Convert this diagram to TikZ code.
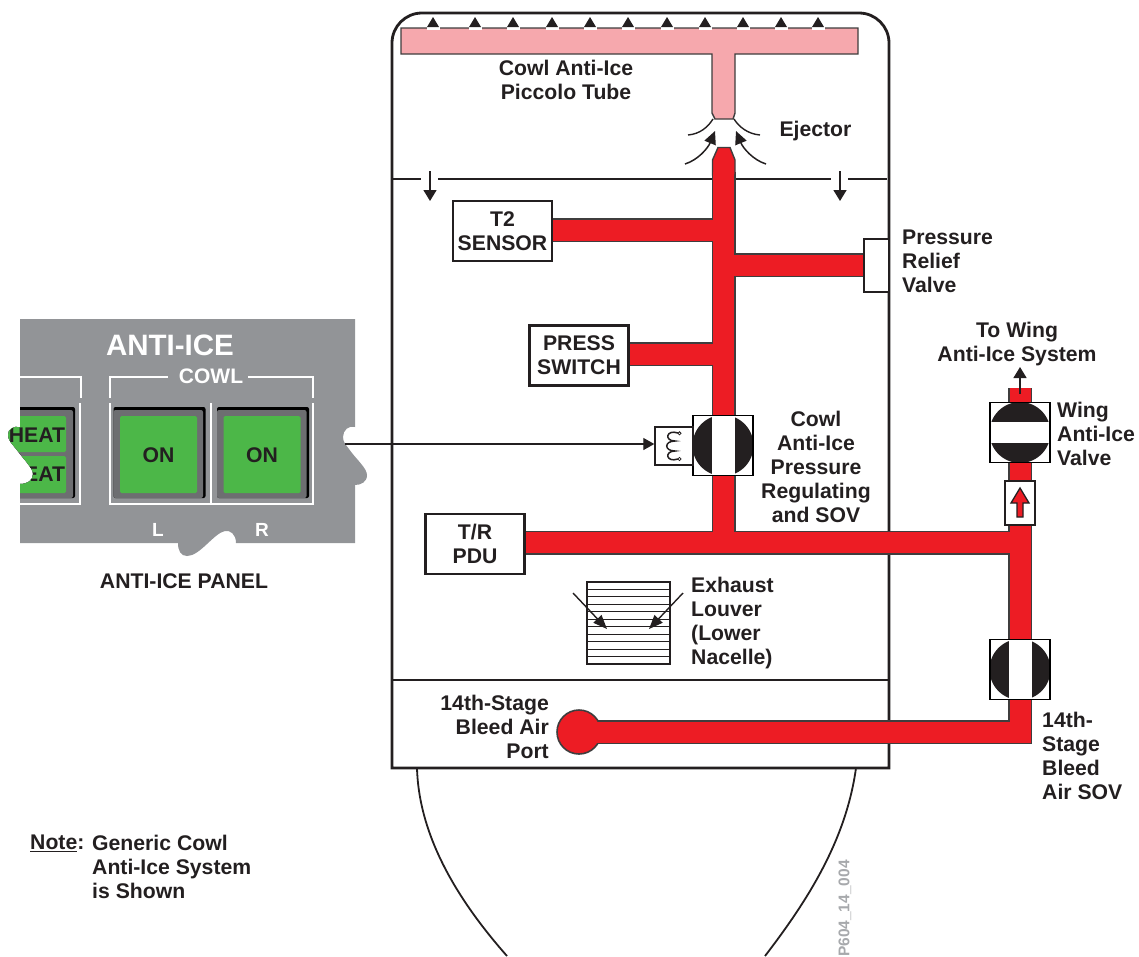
\documentclass[tikz,border=0pt]{standalone}
\usepackage{fontspec}
\setmainfont{Liberation Sans}
\usetikzlibrary{backgrounds,arrows.meta}
\definecolor{inkdark}{HTML}{231F20}
\definecolor{pipered}{HTML}{ED1C24}
\definecolor{pipepink}{HTML}{F6A8AD}
\definecolor{pipeedge}{HTML}{3F3D3E}
\definecolor{panelgray}{HTML}{929497}
\definecolor{btngray}{HTML}{6D6E71}
\definecolor{btngreen}{HTML}{4CB748}
\definecolor{fignogray}{HTML}{A7A9AC}
\newcommand{\lblfont}{\fontsize{21.2}{24}\selectfont\bfseries}
\tikzset{
  lbl/.style={font=\lblfont,text=inkdark,align=center,inner sep=0pt},
  lblleft/.style={lbl,align=left,anchor=west},
  unitbox/.style={draw=inkdark,line width=2.6pt,fill=white,font=\lblfont,text=inkdark,align=center,inner sep=0pt,minimum width=99pt,minimum height=60pt},
  thinbox/.style={draw=inkdark,line width=1.4pt,fill=white,inner sep=0pt},
  valvebase/.style={draw=black,line width=1.6pt,fill=white,inner sep=0pt,minimum size=60pt},
  valvev/.style={valvebase,path picture={
    \fill[inkdark] (path picture bounding box.center) circle (30.5pt);
    \fill[white] ([xshift=-11.5pt]path picture bounding box.south) rectangle ([xshift=11.5pt]path picture bounding box.north);}},
  valveh/.style={valvebase,path picture={
    \fill[inkdark] (path picture bounding box.center) circle (30.5pt);
    \fill[white] ([yshift=-10.5pt]path picture bounding box.west) rectangle ([yshift=10.5pt]path picture bounding box.east);}},
  pipeline/.style={line width=24pt,draw=pipeedge,line join=miter},
  pipecore/.style={line width=21pt,draw=pipered,line join=miter},
  flowarr/.style={-{Triangle[length=11pt,width=13pt]},line width=1.5pt,draw=inkdark},
  ejectarr/.style={-{Triangle[length=13pt,width=12pt]},line width=1.5pt,draw=inkdark},
  louverarr/.style={-{Triangle[length=14pt,width=11pt]},line width=1.4pt,draw=inkdark},
  wallline/.style={line width=1.8pt,draw=inkdark},
  bracket/.style={line width=1.8pt,draw=white},
  paneltxt/.style={text=white,font=\fontsize{19}{20}\selectfont\bfseries,inner sep=0pt},
  greenbtn/.style={fill=btngreen,rounded corners=1.5pt}
}
\newcommand{\panelpath}{(20,319) -- (355,319) -- (355,427) .. controls (349,425) and (343,430) .. (343,437) .. controls (343,442) and (346,445) .. (349,449) .. controls (355,458) and (367,468) .. (367,475) .. controls (367,482) and (361,485) .. (355,485) -- (355,543) -- (236,543) .. controls (236,534) and (230,530) .. (225,531) .. controls (214,533) and (200,556) .. (187,556) .. controls (181,556) and (178,551) .. (178,543) -- (20,543) -- (20,484) .. controls (28,484) and (33,480) .. (33,474) .. controls (33,468) and (24,460) .. (17,450) .. controls (12,444) and (8,440) .. (8,435) .. controls (8,429) and (13,426) .. (20,427) -- cycle}
\begin{document}
\begin{tikzpicture}[x=1pt,y=-1pt]
  \useasboundingbox (0,0) rectangle (1139,956);

  % boxes and valves
  \node[unitbox] (t2) at (502.5,231) {T2\\SENSOR};
  \node[unitbox] (press) at (579,355.5) {PRESS\\SWITCH};
  \node[unitbox] (trpdu) at (475,544) {T/R\\PDU};
  \node[thinbox,minimum width=25pt,minimum height=53pt] (relief) at (876.5,265.5) {};
  \node[valvev] (cowlsov) at (723,445.5) {};
  \node[thinbox,minimum width=38pt,minimum height=38pt] (coil) at (674,446) {};
  \node[valveh] (wingvalve) at (1020,432.5) {};
  \node[valvev] (bleedsov) at (1020,669.5) {};
  \node[thinbox,minimum width=30pt,minimum height=44pt] (check) at (1020,503) {};

  \coordinate (nozzle) at (723.5,172);
  \coordinate (teea) at (723.5,230);
  \coordinate (teeb) at (723.5,265);
  \coordinate (teec) at (723.5,354);
  \coordinate (teed) at (723.5,542.5);
  \coordinate (teee) at (1020,542.5);
  \coordinate (corner) at (1020,732);
  \coordinate (winghead) at (1020,388);
  \coordinate (portc) at (579,732);

  \begin{scope}[on background layer]
    % nacelle walls
    \draw[line width=2.8pt,draw=inkdark] (392,768) [rounded corners=30pt] -- (392,13) -- (889,13) [sharp corners] -- (889,768) -- cycle;
    \draw[wallline] (417,768) .. controls (419,840) and (462,905) .. (507,956);
    \draw[wallline] (856,768) .. controls (846,840) and (808,900) .. (765,956);
    \draw[wallline] (392,680) -- (889,680);
    \draw[wallline] (392,179) -- (421,179);
    \draw[wallline] (438,179) -- (831,179);
    \draw[wallline] (848,179) -- (887,179);

    % piccolo tube
    \draw[fill=pipepink,draw=pipeedge,line width=1.4pt] (401,28) -- (858,28) -- (858,54) -- (735,54) -- (735,113) -- (733,119) -- (715,119) -- (712,113) -- (712,54) -- (401,54) -- cycle;
    \fill[white] (715,119.8) rectangle (733,126);

    % bleed air lines
    \draw[pipeline] (nozzle) -- (teed);
    \draw[pipeline] (teea -| t2.east) -- (teea);
    \draw[pipeline] (teeb -| relief.west) -- (teeb);
    \draw[pipeline] (teec -| press.east) -- (teec);
    \draw[pipeline] (teed -| trpdu.east) -- (teee);
    \draw[pipeline] (winghead) -- (corner) -- (portc);
    \draw[fill=pipered,draw=pipeedge,line width=1.4pt] (712.5,175) -- (712.5,160) -- (718,147.5) -- (730,147.5) -- (735,160) -- (735,175) -- cycle;
    \node[circle,draw=pipeedge,line width=1.6pt,fill=pipered,inner sep=0pt,minimum size=44pt] (port) at (portc) {};
    \draw[pipecore] (nozzle) -- (teed);
    \draw[pipecore] (teea -| t2.east) -- (teea);
    \draw[pipecore] (teeb -| relief.west) -- (teeb);
    \draw[pipecore] (teec -| press.east) -- (teec);
    \draw[pipecore] (teed -| trpdu.east) -- (teee);
    \draw[pipecore] (winghead) -- (corner) -- (portc);
  \end{scope}

  % piccolo outlets
  \foreach \x in {433,475,513,552,590,628,667,705,743,781,818}{
    \fill[white] (\x-6.5,27) rectangle (\x+6.5,30);
    \fill[inkdark] (\x-6,27) -- (\x,17) -- (\x+6,27) -- cycle;
  }

  % ejector
  \draw[line width=1.4pt,draw=inkdark] (713,119) .. controls (708,127) and (700,134) .. (688,135);
  \draw[line width=1.4pt,draw=inkdark] (734,119) .. controls (739,127) and (748,134) .. (760,135);
  \draw[ejectarr] (685,164) .. controls (698,160) and (708,148) .. (715,131);
  \draw[ejectarr] (766,164) .. controls (753,160) and (743,148) .. (736,131);

  % vent arrows at the firewall
  \foreach \n/\x in {ventl/430,ventr/840}{
    \coordinate (\n a) at (\x,171);
    \coordinate (\n b) at (\x,201);
    \draw[flowarr] (\n a) -- (\n b);
  }

  % solenoid
  \draw[line width=1.5pt,draw=inkdark] (678,433) .. controls (666,429) and (664,441) .. (675,441) .. controls (664,441) and (664,451) .. (675,451) .. controls (664,451) and (666,463) .. (678,459);
  \draw[line width=.8pt,draw=inkdark,fill=white] (679.5,433.3) circle (1.6) (679.5,459) circle (1.6);

  % check valve arrow
  \draw[fill=pipered,draw=inkdark,line width=1.3pt] (1017,517) -- (1017,503) -- (1011,503) -- (1020,488) -- (1029,503) -- (1023,503) -- (1023,517) -- cycle;

  % to wing
  \coordinate (wingout) at (1020,394);
  \coordinate (wingtip) at (1020,367);
  \draw[flowarr] (wingout) -- (wingtip);

  % exhaust louver
  \node[draw=inkdark,line width=1.4pt,inner sep=0pt,minimum width=83pt,minimum height=82pt] (louver) at (628.5,623) {};
  \foreach \y in {1,...,10}
    \draw[line width=1.1pt,draw=inkdark] (587,582+\y*7.45) -- (670,582+\y*7.45);
  \draw[louverarr] (573,593) -- (607,629);
  \draw[louverarr] (683,593) -- (649,629);

  % panel
  \fill[panelgray] \panelpath;
  \begin{scope}
    \clip \panelpath;
    \fill[black,rounded corners=2pt] (-5,407) rectangle (75,498);
    \fill[btngray,rounded corners=2pt] (-5,410) rectangle (73,498);
    \fill[greenbtn] (-5,416) rectangle (66,452);
    \fill[greenbtn] (-5,456) rectangle (66,493);
    \node[lbl] (heata) at (37,435) {HEAT};
    \node[lbl] (heatb) at (37,474) {HEAT};
    \draw[bracket] (20,377) -- (81,377) -- (81,398);
    \draw[bracket] (80,403) -- (80,504) -- (20,504);
  \end{scope}
  \foreach \n/\x in {onl/158.5,onr/262}{
    \fill[black,rounded corners=2pt] (\x-45,407) rectangle (\x+47,498);
    \fill[btngray,rounded corners=2pt] (\x-45,410) rectangle (\x+44.5,498);
    \fill[greenbtn] (\x-38.5,416) rectangle (\x+38.5,493);
    \node[lbl] (\n) at (\x,455) {ON};
  }
  \draw[bracket] (110,398) -- (110,377) -- (168,377);
  \draw[bracket] (248,377) -- (313,377) -- (313,398);
  \draw[bracket] (110,403) -- (110,504) -- (313,504) -- (313,403);
  \draw[bracket] (211,403) -- (211,504);
  \node[paneltxt,font=\fontsize{29.5}{30}\selectfont\bfseries] (antiice) at (170,345) {ANTI-ICE};
  \node[paneltxt,font=\fontsize{21}{22}\selectfont\bfseries] (cowlhead) at (211,376) {COWL};
  \node[paneltxt] (leftl) at (158,530) {L};
  \node[paneltxt] (rightr) at (262,530) {R};

  \coordinate (panelout) at (345,444);
  \draw[line width=1.3pt,draw=inkdark,-{Triangle[length=11pt,width=12pt]}] (panelout) -- (panelout -| coil.west);

  % labels
  \node[lbl] (panelname) at (184,581) {ANTI-ICE PANEL};
  \node[lbl] (piccolo) at (566,80) {Cowl Anti-Ice\\Piccolo Tube};
  \node[lbl] (ejector) at (815.5,131.5) {Ejector};
  \node[lblleft] (relieftxt) at (902,261.5) {Pressure\\Relief\\Valve};
  \node[lbl] (towing) at (1017,344.5) {To Wing\\Anti-Ice System};
  \node[lblleft] (wingtxt) at (1057,433.5) {Wing\\Anti-Ice\\Valve};
  \node[lbl] (sovtxt) at (816,467) {Cowl\\Anti-Ice\\Pressure\\Regulating\\and SOV};
  \node[lblleft] (louvertxt) at (691,623.5) {Exhaust\\Louver\\(Lower\\Nacelle)};
  \node[lbl,align=right,anchor=east] (porttxt) at (549,727) {14th-Stage\\Bleed Air\\Port};
  \node[lblleft] (bleedtxt) at (1042,756) {14th-\\Stage\\Bleed\\Air SOV};
  \node[lblleft] (notehead) at (30,843) {\underline{Note}:};
  \node[lblleft] (notetxt) at (92,867) {Generic Cowl\\Anti-Ice System\\is Shown};
  \node[rotate=90,anchor=west,inner sep=0pt,text=fignogray,font=\fontsize{15.5}{17}\selectfont\bfseries] (figno) at (845,957) {P604\_14\_004};
\end{tikzpicture}
\end{document}
